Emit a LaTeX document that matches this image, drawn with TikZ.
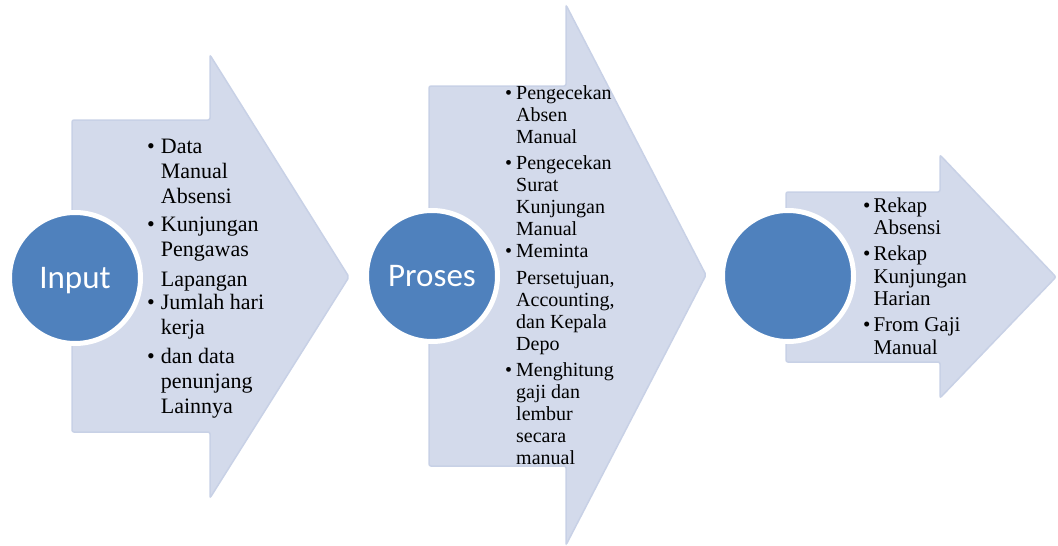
\documentclass[tikz,border=0pt]{standalone}
\usepackage{fontspec}
\setmainfont{Liberation Serif}
\newfontfamily\calibri{Carlito}
\definecolor{arrowfill}{HTML}{D3DAEB}
\definecolor{arrowline}{HTML}{C8D1E6}
\definecolor{circleblue}{HTML}{4F81BD}
\tikzset{
  chevron/.style={fill=arrowfill, draw=arrowline, line width=1.5pt, rounded corners=2pt},
  stage/.style={circle, fill=circleblue, draw=white, line width=5pt, minimum size=131pt, inner sep=0pt,
    text=white, font=\calibri\fontsize{33}{36}\selectfont, text height=21pt, text depth=0pt},
  listtext/.style={anchor=base west, inner sep=0pt}
}
\begin{document}
\begin{tikzpicture}[x=1pt,y=-1pt]
	\useasboundingbox (0,0) rectangle (1058,546);

	\draw[chevron] (72,120) -- (210,120) -- (210,55) -- (349,277) -- (210,498) -- (210,432) -- (72,432) -- cycle;
	\draw[chevron] (429,86) -- (566,86) -- (566,5) -- (706,275) -- (566,545) -- (566,466) -- (429,466) -- cycle;
	\draw[chevron] (786,192) -- (940,192) -- (940,155) -- (1056,277) -- (940,398) -- (940,362) -- (786,362) -- cycle;

	\node[stage] (input) at (75,278) {Input};
	\node[stage] (proses) at (432,276) {Proses};
	\node[stage] (output) at (788,276) {};

	\node[listtext, font=\fontsize{22}{25}\selectfont] (inputlist) at (147,153) {\begin{tabular}[t]{@{}l@{\hspace{6pt}}l@{}}
		\textbullet & Data\\ & Manual\\ & Absensi\\[3pt]
		\textbullet & Kunjungan\\ & Pengawas\\[5pt] & Lapangan\\[-2pt]
		\textbullet & Jumlah hari\\ & kerja\\[4pt]
		\textbullet & dan data\\ & penunjang\\ & Lainnya
	\end{tabular}};
	\node[listtext, font=\fontsize{20}{22}\selectfont] (proseslist) at (505,99.6) {\begin{tabular}[t]{@{}l@{\hspace{4pt}}l@{}}
		\textbullet & Pengecekan\\ & Absen\\ & Manual\\[4pt]
		\textbullet & Pengecekan\\ & Surat\\ & Kunjungan\\ & Manual\\
		\textbullet & Meminta\\[5pt] & Persetujuan,\\ & Accounting,\\ & dan Kepala\\ & Depo\\[4pt]
		\textbullet & Menghitung\\ & gaji dan\\ & lembur\\ & secara\\ & manual
	\end{tabular}};
	\node[listtext, font=\fontsize{21}{22.7}\selectfont] (outputlist) at (863,212) {\begin{tabular}[t]{@{}l@{\hspace{3pt}}l@{}}
		\textbullet & Rekap\\ & Absensi\\[3pt]
		\textbullet & Rekap\\ & Kunjungan\\ & Harian\\[3pt]
		\textbullet & From Gaji\\ & Manual
	\end{tabular}};
\end{tikzpicture}
\end{document}
